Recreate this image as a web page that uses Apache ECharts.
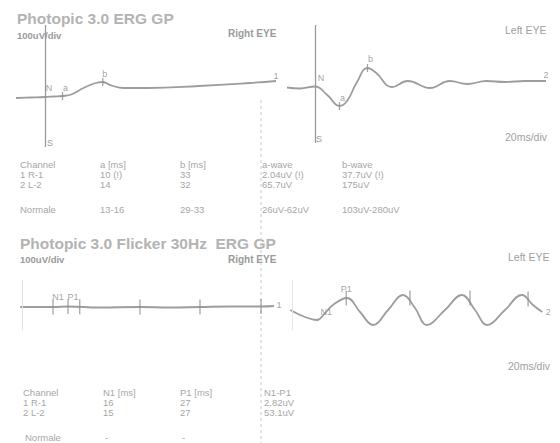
<!DOCTYPE html>
<html>
<head>
<meta charset="utf-8">
<script src="https://cdn.jsdelivr.net/npm/echarts@6/dist/echarts.min.js"></script>
<style>
  html, body { margin: 0; padding: 0; background: #fff; }
  #chart { width: 560px; height: 443px; }
</style>
</head>
<body>
<div id="chart"></div>
<script>
// ---- Photopic 3.0 ERG: traces as [time ms, amplitude uV] ----
const ergRightTrace = [[-16.6,-4],[-9,-2],[0,0],[5,2],[10,4],[15,10],[22,36],[28,54],[33,60],[38,46],[45,36],[59,36],[88,44],[117,56],[132,64]];
const ergLeftTrace = [[-16,2],[-8.6,-2],[0,6],[7,-28],[14,-72],[18.3,-52],[24,24],[30,80],[35,60],[44,4],[53,28],[65.7,0],[77,28],[87,16],[98,28],[108.6,24],[120,28],[132,28]];
// marker name, time ms, amplitude uV
const ergRightMarks = [['N',0,0],['a',10,4],['b',33,60],['1',132,64]];
const ergLeftMarks = [['N',0,6],['a',14,-72],['b',30,80],['2',132,28]];

// ---- Photopic 3.0 Flicker 30Hz ----
const flkRightTrace = [[-1,0],[17.7,0],[26.3,2],[44.6,-2],[67.4,0],[84.6,-2],[101.7,0],[118.9,2],[137,2],[144,4]];
const flkLeftTrace = [[-1,0],[7.4,-28],[14.3,-40],[18.9,-12],[23.4,20],[31.4,48],[38.9,-8],[46.3,-60],[54.9,0],[63.4,60],[70.3,8],[77,-60],[87.4,0],[97.1,60],[104.6,0],[111.4,-60],[121.7,0],[131.4,60],[137.7,20],[143,-8]];
const flkRightMarks = [['N1',17.7,0],['P1',26.3,2],['',33,1],['',67.4,0],['',101.7,0],['',136.6,2],['1',144,4]];
const flkLeftMarks = [['N1',15,-38],['P1',31,48],['',67.4,48],['',101.7,48],['',134.9,44],['2',143,-8]];

// ---- result tables ----
const ergHeader = ['Channel', 'a [ms]', 'b [ms]', 'a-wave', 'b-wave'];
const ergRows = [
  ['1 R-1', '10 (!)', '33', '2.04uV (!)', '37.7uV (!)'],
  ['2 L-2', '14', '32', '65.7uV', '175uV']
];
const ergNormal = ['Normale', '13-16', '29-33', '26uV-62uV', '103uV-280uV'];
const flkHeader = ['Channel', 'N1 [ms]', 'P1 [ms]', 'N1-P1'];
const flkRows = [
  ['1 R-1', '16', '27', '2.82uV'],
  ['2 L-2', '15', '27', '53.1uV']
];
const flkNormal = ['Normale', '-', '-', ''];

// ---- styling ----
const INK = '#9d9d9d';
const TEXT = '#a6a6a6';
const FONT = 'Liberation Sans, Arial, sans-serif';

// label offsets (px) for the named markers in each panel
const labelOffsets = [
  { N: [4, -9], a: [3, -8], b: [2, -8], '1': [0, -5] },
  { N: [6, -9], a: [3, -8], b: [3, -9], '2': [0, -6] },
  { N1: [5, -10], P1: [5, -10], '1': [5, -1] },
  { N1: [8, -8], P1: [0, -9], '2': [6, 0] }
];
const tickSizes = [[1.3, 8], [1.3, 8], [1.3, 15], [1.3, 15]];
const noTick = { N: true, '1': true, '2': true };

function markSeries(marks, idx) {
  return {
    type: 'scatter', xAxisIndex: idx, yAxisIndex: idx, silent: true, z: 4,
    symbol: 'rect',
    data: marks.map(function (m) {
      const off = labelOffsets[idx][m[0]] || [0, 0];
      const hide = noTick[m[0]] || (idx === 3 && m[0] === 'N1');
      return {
        name: m[0], value: [m[1], m[2]],
        symbolSize: hide ? [1, 1] : tickSizes[idx],
        itemStyle: { color: hide ? 'rgba(0,0,0,0)' : '#8f8f8f' },
        label: {
          show: m[0] !== '', formatter: '{b}', position: 'inside', offset: off,
          color: '#8a8a8a', fontSize: 9, fontFamily: FONT
        }
      };
    })
  };
}

function traceSeries(data, idx, smooth, axisLine) {
  const s = {
    type: 'line', xAxisIndex: idx, yAxisIndex: idx, data: data,
    smooth: smooth, symbol: 'none', silent: true, z: 3,
    lineStyle: { color: INK, width: 1.8 }
  };
  if (axisLine) {
    s.markLine = {
      silent: true, symbol: ['none', 'none'], label: { show: false },
      lineStyle: { color: axisLine.color, width: axisLine.width, type: 'solid' },
      data: [{ xAxis: 0 }]
    };
  }
  return s;
}

// panel geometry: 1.75 px per ms, 4 uV per px
const grids = [
  { left: 17, top: 25, width: 259, height: 122 },
  { left: 287, top: 25, width: 259, height: 118 },
  { left: 20.25, top: 280, width: 253.75, height: 50 },
  { left: 290.25, top: 280, width: 253.75, height: 50 }
];
const xRanges = [[-16, 132], [-16, 132], [-1, 144], [-1, 144]];
const yRanges = [[-200, 288], [-220, 252], [-92, 108], [-80, 120]];

function txt(text, x, y, font, fill, align) {
  return {
    type: 'text', x: x, y: y, silent: true,
    style: { text: text, font: font, fill: fill || TEXT, align: align || 'left', verticalAlign: 'middle' }
  };
}

const graphics = [];
// headers
graphics.push(txt('Photopic 3.0 ERG GP', 17, 18, 'bold 15.5px ' + FONT, '#b3b3b3'));
graphics.push(txt('100uV/div', 17, 35, 'bold 9.5px ' + FONT, '#9a9a9a'));
graphics.push(txt('Right EYE', 228, 33, 'bold 10px ' + FONT, '#9a9a9a'));
graphics.push(txt('Left EYE', 505, 30, '10.5px ' + FONT, '#a0a0a0'));
graphics.push(txt('20ms/div', 505, 137, '10.5px ' + FONT, '#a0a0a0'));
graphics.push(txt('S', 47, 143, '9px ' + FONT, '#9a9a9a'));
graphics.push(txt('S', 316, 139, '9px ' + FONT, '#9a9a9a'));

graphics.push(txt('Photopic 3.0 Flicker 30Hz  ERG GP', 20, 243, 'bold 15.5px ' + FONT, '#b3b3b3'));
graphics.push(txt('100uV/div', 20, 259, 'bold 9.5px ' + FONT, '#9a9a9a'));
graphics.push(txt('Right EYE', 228, 259, 'bold 10px ' + FONT, '#9a9a9a'));
graphics.push(txt('Left EYE', 508, 257, '10.5px ' + FONT, '#a0a0a0'));
graphics.push(txt('20ms/div', 508, 366, '10.5px ' + FONT, '#a0a0a0'));

// tables
const ergCols = [20, 100, 180, 262, 342];
const ergRowY = [164, 174, 184];
ergHeader.forEach(function (h, c) { graphics.push(txt(h, ergCols[c], ergRowY[0], '9.5px ' + FONT)); });
ergRows.forEach(function (r, i) {
  r.forEach(function (v, c) { graphics.push(txt(v, ergCols[c], ergRowY[i + 1], '9.5px ' + FONT)); });
});
ergNormal.forEach(function (v, c) { graphics.push(txt(v, ergCols[c], 209, '9.5px ' + FONT)); });

const flkCols = [23, 103, 180, 264];
const flkRowY = [392, 402, 412];
flkHeader.forEach(function (h, c) { graphics.push(txt(h, flkCols[c], flkRowY[0], '9.5px ' + FONT)); });
flkRows.forEach(function (r, i) {
  r.forEach(function (v, c) { graphics.push(txt(v, flkCols[c], flkRowY[i + 1], '9.5px ' + FONT)); });
});
flkNormal.forEach(function (v, c) { if (v) graphics.push(txt(v, flkCols[c] + 2, 437, '9.5px ' + FONT)); });

// dashed page separator
graphics.push({
  type: 'line', silent: true, z: 1,
  shape: { x1: 261, y1: 100, x2: 261, y2: 443 },
  style: { stroke: '#c9c9c9', lineWidth: 1, lineDash: [3, 3] }
});

const option = {
  animation: false,
  backgroundColor: '#ffffff',
  grid: grids,
  xAxis: grids.map(function (g, i) {
    return { type: 'value', gridIndex: i, min: xRanges[i][0], max: xRanges[i][1], show: false };
  }),
  yAxis: grids.map(function (g, i) {
    return { type: 'value', gridIndex: i, min: yRanges[i][0], max: yRanges[i][1], show: false };
  }),
  series: [
    traceSeries(ergRightTrace, 0, 0.45, { color: '#9a9a9a', width: 1.3 }),
    traceSeries(ergLeftTrace, 1, 0.45, { color: '#9a9a9a', width: 1.3 }),
    traceSeries(flkRightTrace, 2, 0.45, { color: '#e2e2e2', width: 1 }),
    traceSeries(flkLeftTrace, 3, 0.42, { color: '#e6e6e6', width: 1 }),
    markSeries(ergRightMarks, 0),
    markSeries(ergLeftMarks, 1),
    markSeries(flkRightMarks, 2),
    markSeries(flkLeftMarks, 3)
  ],
  graphic: graphics
};

const chart = echarts.init(document.getElementById('chart'), null, { renderer: 'svg' });
chart.setOption(option);
</script>
</body>
</html>
